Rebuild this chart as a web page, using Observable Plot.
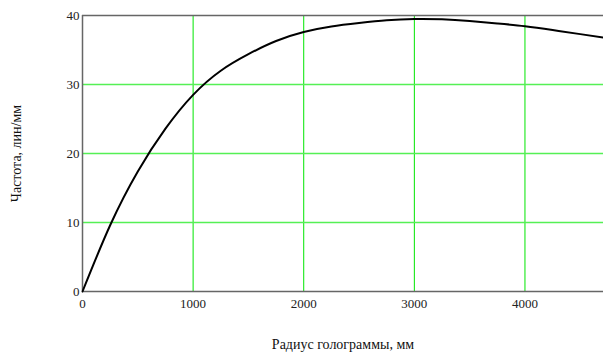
<!DOCTYPE html>
<html>
<head>
<meta charset="utf-8">
<script src="https://cdn.jsdelivr.net/npm/d3@7"></script>
<script src="https://cdn.jsdelivr.net/npm/@observablehq/plot@0.6"></script>
<style>
  html, body { margin: 0; padding: 0; background: #fff; }
  #chart { width: 603px; height: 356px; }
</style>
</head>
<body>
<div id="chart"></div>
<script>
const radius = [0, 250, 500, 750, 1000, 1250, 1500, 1750, 2000, 2250, 2500, 2750, 3000, 3250, 3500, 3750, 4000, 4250, 4500, 4710];
const frequency = [0, 9.6, 17.4, 23.6, 28.5, 32.0, 34.4, 36.3, 37.6, 38.4, 38.9, 39.3, 39.5, 39.45, 39.2, 38.85, 38.45, 37.9, 37.3, 36.8];
const xTicks = [0, 1000, 2000, 3000, 4000];
const yTicks = [0, 10, 20, 30, 40];
const xGrid = [1000, 2000, 3000, 4000];
const yGrid = [10, 20, 30];
const xTitle = "Радиус голограммы, мм";
const yTitle = "Частота, лин/мм";

const data = radius.map((r, i) => ({r, f: frequency[i]}));

const chart = Plot.plot({
  width: 603,
  height: 356,
  marginLeft: 82,
  marginRight: 0,
  marginTop: 15,
  marginBottom: 65,
  style: {fontFamily: "'Liberation Serif', serif", fontSize: "13px", color: "#222", background: "#fff"},
  x: {domain: [0, 4710], ticks: xTicks, tickFormat: d => String(d), tickSize: 0, tickPadding: 7, label: null},
  y: {domain: [0, 40], ticks: yTicks, tickFormat: d => String(d), tickSize: 0, tickPadding: 3, label: null},
  marks: [
    Plot.ruleX(xGrid, {stroke: "#00e600", strokeWidth: 1}),
    Plot.ruleY(yGrid, {stroke: "#55f055", strokeWidth: 1.5}),
    Plot.ruleX([0], {stroke: "#666", strokeWidth: 1.5}),
    Plot.ruleY([0, 40], {stroke: "#666", strokeWidth: 1.5}),
    Plot.line(data, {x: "r", y: "f", stroke: "#000", strokeWidth: 2, curve: "natural"}),
    Plot.text([xTitle], {frameAnchor: "bottom", dy: 57, fontSize: 14, fill: "#111", textAnchor: "middle"}),
    Plot.text([yTitle], {frameAnchor: "left", dx: -66, rotate: -90, fontSize: 14, fill: "#111", textAnchor: "middle"})
  ]
});
document.getElementById("chart").appendChild(chart);
</script>
</body>
</html>
